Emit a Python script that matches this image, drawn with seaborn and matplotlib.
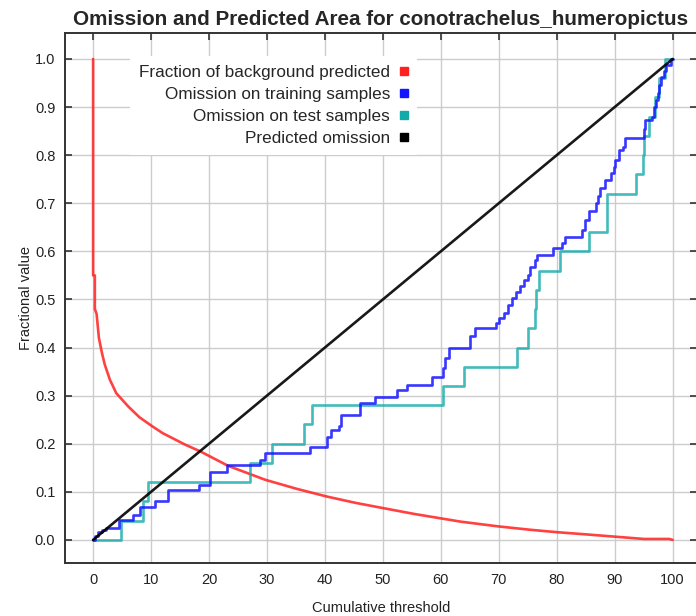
import matplotlib
matplotlib.use("Agg")
import matplotlib.pyplot as plt
import seaborn as sns
import pandas as pd
from matplotlib.lines import Line2D

# ---- data ----
bg_x = [0, 0, 0.3, 0.3, 0.6, 1.0, 1.5, 2.0, 2.9, 4.0, 6.1, 8.0, 10.0, 12.0, 15.9,
        18.5, 23.3, 29.7, 35.2, 40.4, 45.3, 50.1, 55.4, 59.9, 63.4, 70.0, 75.5,
        80.1, 85.6, 89.8, 95.0, 99.4, 100]
bg_y = [1.0, 0.55, 0.55, 0.48, 0.47, 0.42, 0.39, 0.365, 0.333, 0.305, 0.277, 0.255,
        0.238, 0.222, 0.198, 0.184, 0.154, 0.125, 0.106, 0.09, 0.077, 0.066, 0.054,
        0.045, 0.038, 0.028, 0.021, 0.016, 0.011, 0.007, 0.002, 0.002, 0.0]

train_x = [0, 0.3, 0.9, 1.6, 2.3, 4.5, 6.85, 8.15, 10.7, 13.0, 18.2, 20.2, 23.1, 28.8,
           29.7, 37.4, 40.4, 41.0, 42.4, 42.7, 46.1, 48.7, 52.5, 54.2, 58.5, 60.3,
           60.8, 61.4, 65.1, 65.9, 69.5, 70.1, 70.9, 71.6, 72.2, 73.0, 73.6, 74.3,
           75.0, 75.4, 76.2, 76.6, 79.3, 80.9, 81.5, 84.3, 84.9, 85.5, 86.7, 87.1,
           87.5, 88.3, 89.3, 89.8, 90.1, 90.8, 91.5, 91.8, 95.1, 95.3, 96.5, 96.8,
           97.1, 97.4, 97.7, 98.0, 98.5, 98.9, 99.7, 100]
train_y = [0, 0.008, 0.016, 0.02, 0.0245, 0.042, 0.052, 0.068, 0.08, 0.104, 0.114,
           0.142, 0.156, 0.166, 0.181, 0.193, 0.215, 0.229, 0.236, 0.26, 0.284, 0.298,
           0.312, 0.322, 0.338, 0.357, 0.378, 0.398, 0.423, 0.44, 0.45, 0.461, 0.471,
           0.489, 0.502, 0.515, 0.527, 0.541, 0.551, 0.568, 0.582, 0.593, 0.606, 0.617,
           0.629, 0.644, 0.665, 0.683, 0.70, 0.715, 0.731, 0.748, 0.762, 0.776, 0.79,
           0.811, 0.818, 0.835, 0.855, 0.873, 0.88, 0.90, 0.915, 0.929, 0.946, 0.963,
           0.976, 0.988, 1.0, 1.0]

test_x = [0, 4.85, 8.65, 9.5, 27.1, 30.8, 36.4, 37.8, 60.3, 64.0, 73.1, 75.1, 76.2,
          76.5, 76.9, 80.6, 85.5, 88.6, 88.7, 93.6, 94.8, 95.0, 95.9, 97.0, 97.7,
          98.6, 100]
test_y = [0, 0.04, 0.08, 0.12, 0.16, 0.20, 0.24, 0.28, 0.32, 0.36, 0.40, 0.44, 0.48,
          0.52, 0.56, 0.60, 0.64, 0.68, 0.72, 0.76, 0.80, 0.84, 0.88, 0.92, 0.96,
          1.0, 1.0]

pred_x = [0, 100]
pred_y = [0.0, 1.0]

labels = ["Fraction of background predicted", "Omission on training samples",
          "Omission on test samples", "Predicted omission"]
colors = ["#ff2020", "#1414ff", "#14aaaa", "#000000"]
title = "Omission and Predicted Area for conotrachelus_humeropictus"
xticks = list(range(0, 101, 10))
yticks = [i / 10 for i in range(11)]

# ---- plot ----
sns.set_style("white")
plt.rcParams["font.family"] = ["Liberation Sans", "DejaVu Sans"]

fig = plt.figure(figsize=(6.96, 6.16), dpi=100)
ax = fig.add_axes([65 / 696, 1 - 563 / 616, 632 / 696, (563 - 33) / 616])

lw = 1.9
sns.lineplot(data=pd.DataFrame({"x": bg_x, "y": bg_y}), x="x", y="y", ax=ax,
             estimator=None, sort=False, color=colors[0], lw=lw, alpha=0.85)
sns.lineplot(data=pd.DataFrame({"x": test_x, "y": test_y}), x="x", y="y", ax=ax,
             estimator=None, sort=False, color=colors[2], lw=lw, alpha=0.8,
             drawstyle="steps-post")
sns.lineplot(data=pd.DataFrame({"x": train_x, "y": train_y}), x="x", y="y", ax=ax,
             estimator=None, sort=False, color=colors[1], lw=lw, alpha=0.85,
             drawstyle="steps-post")
sns.lineplot(data=pd.DataFrame({"x": pred_x, "y": pred_y}), x="x", y="y", ax=ax,
             estimator=None, sort=False, color=colors[3], lw=lw, alpha=0.9)

ax.set_xlim(-4.85, 104.2)
ax.set_ylim(-0.048, 1.054)
ax.set_xticks(xticks)
ax.set_yticks(yticks)
ax.set_yticklabels([f"{v:.1f}" for v in yticks])
ax.grid(True, color="#cccccc", lw=1.0)
ax.set_axisbelow(True)
for s in ax.spines.values():
    s.set_color("#333333")
    s.set_linewidth(1.4)
ax.tick_params(axis="both", direction="in", length=5, width=1.2, color="#333333",
               labelsize=10.5, labelcolor="#222222", pad=7)
ax.tick_params(axis="x", top=True, bottom=False)
ax.tick_params(axis="y", right=True, left=True)

ax.set_xlabel("Cumulative threshold", fontsize=10.5, color="#222222", labelpad=10)
ax.set_ylabel("Fractional value", fontsize=10.5, color="#222222", labelpad=1)
ax.set_title(title, fontsize=14.9, fontweight="bold", pad=6)

handles = [Line2D([], [], marker="s", ls="none", color=c, markersize=6) for c in colors]
leg = ax.legend(handles, labels, loc="upper right", bbox_to_anchor=(0.571, 0.972),
                markerfirst=False, frameon=True, fancybox=False, framealpha=1,
                facecolor="white", edgecolor="none", fontsize=12.3,
                labelspacing=0.42, handlelength=0.6, handletextpad=0.5,
                borderpad=0.5)

fig.savefig("out.png", dpi=100)
